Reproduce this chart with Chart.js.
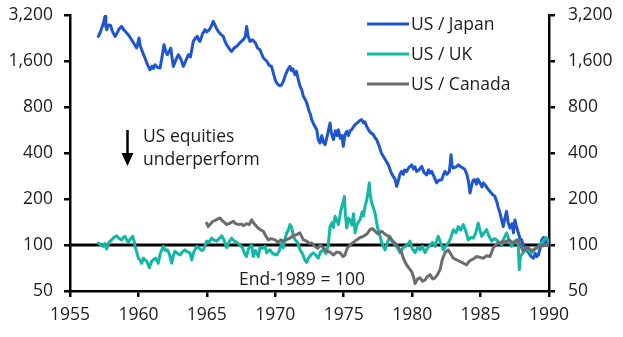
<!DOCTYPE html>
<html>
<head>
<meta charset="utf-8">
<script src="https://cdn.jsdelivr.net/npm/chart.js@4.4.1/dist/chart.umd.min.js"></script>
<style>
  html, body { margin: 0; padding: 0; background: #ffffff; }
  #wrap { width: 623px; height: 337px; }
</style>
</head>
<body>
<div id="wrap"><canvas id="c" width="623" height="337"></canvas></div>
<script>
// ---------- DATA (End-1989 = 100) ----------
const yTickValues = [50, 100, 200, 400, 800, 1600, 3200];
const xTickYears = [1955, 1960, 1965, 1970, 1975, 1980, 1985, 1990];
const seriesNames = ["US / Japan", "US / UK", "US / Canada"];
const baseLineValue = 100;

const japanYears = [1957.07,1957.2,1957.32,1957.45,1957.56,1957.62,1957.68,1957.8,1957.97,1958.1,1958.29,1958.45,1958.6,1958.77,1958.95,1959.14,1959.3,1959.5,1959.65,1959.87,1960.04,1960.14,1960.24,1960.35,1960.48,1960.65,1960.85,1961.0,1961.1,1961.21,1961.4,1961.58,1961.7,1961.87,1962.0,1962.11,1962.25,1962.36,1962.45,1962.55,1962.7,1962.92,1963.1,1963.28,1963.45,1963.65,1963.8,1964.01,1964.15,1964.3,1964.4,1964.5,1964.68,1964.86,1965.0,1965.18,1965.32,1965.47,1965.6,1965.72,1965.84,1966.0,1966.2,1966.33,1966.45,1966.6,1966.69,1966.81,1967.0,1967.17,1967.3,1967.45,1967.66,1967.8,1967.91,1968.0,1968.15,1968.35,1968.55,1968.7,1968.88,1969.13,1969.37,1969.55,1969.73,1969.86,1970.0,1970.1,1970.22,1970.35,1970.47,1970.59,1970.75,1970.9,1971.07,1971.2,1971.3,1971.44,1971.55,1971.68,1971.8,1971.93,1972.05,1972.18,1972.3,1972.45,1972.56,1972.66,1972.8,1973.03,1973.14,1973.27,1973.4,1973.52,1973.64,1973.8,1974.0,1974.1,1974.25,1974.4,1974.52,1974.61,1974.75,1974.87,1974.97,1975.1,1975.22,1975.35,1975.46,1975.58,1975.7,1975.83,1976.0,1976.15,1976.31,1976.45,1976.55,1976.68,1976.85,1977.0,1977.17,1977.3,1977.41,1977.6,1977.75,1977.9,1978.05,1978.26,1978.45,1978.62,1978.75,1978.87,1979.0,1979.1,1979.23,1979.35,1979.45,1979.6,1979.75,1979.96,1980.1,1980.2,1980.33,1980.5,1980.7,1980.85,1981.06,1981.2,1981.3,1981.43,1981.6,1981.79,1981.95,1982.16,1982.3,1982.4,1982.55,1982.72,1982.78,1982.84,1982.92,1983.0,1983.2,1983.37,1983.55,1983.7,1983.86,1984.0,1984.12,1984.23,1984.35,1984.45,1984.59,1984.7,1984.8,1984.96,1985.1,1985.2,1985.32,1985.5,1985.69,1985.85,1986.05,1986.2,1986.3,1986.42,1986.55,1986.66,1986.78,1986.9,1987.02,1987.15,1987.3,1987.4,1987.51,1987.6,1987.76,1987.88,1988.0,1988.12,1988.25,1988.37,1988.55,1988.7,1988.86,1989.0,1989.1,1989.22,1989.35,1989.47,1989.6,1989.7,1989.83,1989.95,1990.0];
const japanValues = [2318,2450,2630,2850,3134,2700,2565,2750,2735,2500,2318,2450,2600,2695,2550,2440,2350,2205,2100,1946,2263,2000,1897,1780,1674,1520,1403,1480,1430,1513,1450,1440,1650,2045,1850,1759,1850,1946,1700,1475,1600,1759,1650,1475,1600,1759,1700,2150,2250,2318,2200,2150,2400,2565,2480,2565,2700,2906,2750,2600,2499,2400,2318,2150,2045,1950,1897,1849,1950,1994,2050,2120,2205,2300,2695,2350,2150,2200,2098,1950,1897,1674,1600,1500,1475,1335,1200,1149,1120,1100,1120,1177,1300,1400,1475,1380,1420,1302,1368,1207,1100,1038,938,900,850,760,720,661,620,568,489,465,520,470,453,520,628,540,489,560,520,568,500,520,442,530,554,520,560,568,590,613,630,650,661,630,640,597,560,540,527,500,489,442,400,380,360,335,300,281,270,242,265,290,303,290,310,303,320,335,315,325,303,310,327,300,288,310,295,303,280,255,265,267,290,303,290,303,340,390,330,319,325,335,325,320,311,290,260,219,245,265,267,250,270,255,240,255,248,235,224,215,208,190,175,162,145,132,150,166,140,129,138,120,146,135,120,110,108,100,97,93,88,84,82,88,84,86,95,108,112,104,108,100,100];

const ukYears = [1957.07,1957.25,1957.43,1957.55,1957.68,1957.85,1958.04,1958.2,1958.41,1958.6,1958.77,1958.9,1959.02,1959.15,1959.26,1959.42,1959.58,1959.68,1959.75,1959.88,1959.99,1960.1,1960.24,1960.36,1960.48,1960.62,1960.8,1960.95,1961.09,1961.25,1961.45,1961.6,1961.82,1961.95,1962.11,1962.25,1962.43,1962.55,1962.67,1962.85,1963.04,1963.2,1963.4,1963.58,1963.77,1963.89,1964.05,1964.26,1964.45,1964.6,1964.74,1964.88,1964.99,1965.15,1965.35,1965.5,1965.72,1965.9,1966.08,1966.25,1966.45,1966.6,1966.81,1967.0,1967.18,1967.42,1967.6,1967.75,1967.9,1968.05,1968.27,1968.39,1968.55,1968.76,1968.88,1969.05,1969.25,1969.37,1969.5,1969.61,1969.8,1970.1,1970.3,1970.47,1970.58,1970.7,1970.83,1970.95,1971.07,1971.2,1971.32,1971.44,1971.56,1971.7,1971.81,1971.92,1972.05,1972.15,1972.29,1972.42,1972.6,1972.78,1972.95,1973.14,1973.3,1973.51,1973.7,1973.87,1974.0,1974.15,1974.25,1974.37,1974.5,1974.61,1974.75,1974.86,1974.95,1975.05,1975.12,1975.22,1975.35,1975.46,1975.6,1975.72,1975.83,1975.95,1976.05,1976.19,1976.35,1976.45,1976.56,1976.7,1976.8,1976.87,1976.95,1977.05,1977.17,1977.3,1977.41,1977.52,1977.65,1977.78,1977.9,1978.02,1978.2,1978.38,1978.55,1978.75,1978.95,1979.12,1979.3,1979.48,1979.65,1979.85,1980.0,1980.21,1980.4,1980.58,1980.75,1980.94,1981.1,1981.31,1981.5,1981.67,1981.8,1981.91,1982.05,1982.28,1982.45,1982.64,1982.8,1983.01,1983.2,1983.37,1983.55,1983.74,1983.9,1984.1,1984.3,1984.47,1984.65,1984.83,1984.95,1985.08,1985.25,1985.44,1985.6,1985.81,1986.0,1986.17,1986.35,1986.54,1986.7,1986.9,1987.05,1987.27,1987.45,1987.63,1987.75,1987.83,1987.92,1988.12,1988.3,1988.49,1988.7,1988.85,1989.05,1989.22,1989.4,1989.58,1989.75,1989.95,1990.0];
const ukValues = [103,100,98,102,94,104,108,112,115,110,108,112,114,108,104,110,114,106,98,90,82,80,76,82,80,78,71,78,80,82,76,88,98,92,93,88,76,85,91,88,86,90,93,90,89,80,90,98,95,92,93,100,106,104,111,108,106,110,115,108,96,104,111,106,104,100,96,88,84,95,100,84,92,84,96,95,98,89,92,93,88,86,92,103,96,108,120,125,136,130,115,108,106,100,93,90,85,80,77,82,86,89,86,82,90,93,88,100,132,140,130,154,145,136,160,179,190,208,160,129,150,146,135,160,120,135,140,146,165,155,179,200,230,255,210,188,175,160,140,125,115,103,98,93,104,114,105,100,95,89,95,98,100,106,95,89,96,93,98,89,95,100,104,98,108,114,105,93,98,103,110,126,120,132,125,136,125,108,112,111,120,139,125,114,120,126,115,106,110,108,104,100,110,120,110,98,105,108,100,69,85,89,95,93,88,91,95,98,102,106,112,108,100];

const canadaYears = [1964.99,1965.1,1965.23,1965.4,1965.6,1965.8,1965.96,1966.1,1966.3,1966.45,1966.69,1966.93,1967.1,1967.3,1967.5,1967.7,1967.9,1968.1,1968.27,1968.4,1968.64,1968.9,1969.12,1969.3,1969.49,1969.7,1969.98,1970.2,1970.4,1970.58,1970.8,1971.07,1971.3,1971.56,1971.8,1972.05,1972.3,1972.5,1972.66,1972.9,1973.1,1973.27,1973.5,1973.75,1974.0,1974.24,1974.5,1974.73,1974.95,1975.09,1975.25,1975.46,1975.7,1975.94,1976.2,1976.43,1976.7,1976.92,1977.1,1977.29,1977.5,1977.78,1978.0,1978.26,1978.5,1978.75,1979.0,1979.23,1979.4,1979.6,1979.8,1979.96,1980.1,1980.21,1980.4,1980.58,1980.75,1980.94,1981.1,1981.31,1981.5,1981.67,1981.85,1982.04,1982.2,1982.4,1982.64,1982.8,1983.01,1983.25,1983.5,1983.75,1983.98,1984.15,1984.35,1984.55,1984.71,1984.95,1985.2,1985.45,1985.69,1985.93,1986.1,1986.3,1986.5,1986.66,1986.85,1987.03,1987.2,1987.39,1987.6,1987.76,1987.95,1988.12,1988.3,1988.49,1988.7,1988.85,1989.1,1989.34,1989.6,1989.83,1990.0];
const canadaValues = [139,132,136,142,145,148,150,145,140,136,139,143,138,136,137,134,138,136,146,140,132,126,123,115,108,110,108,104,108,106,108,111,115,117,120,108,106,102,103,98,95,100,96,91,90,86,90,89,84,86,95,100,104,108,112,114,118,126,128,123,118,123,118,114,108,103,96,89,80,74,70,67,62,56,60,61,58,59,62,64,60,61,64,69,80,89,93,88,82,80,78,76,74,78,80,82,84,83,82,85,84,96,100,103,104,106,104,108,106,103,106,108,98,91,95,96,92,93,96,98,99,100,100];

// ---------- STYLE ----------
const FONT = "'Open Sans', 'Noto Sans', sans-serif";
const FONT_SIZE = 17.5;
const TEXT_COLOR = "#1c1c1c";
const COLORS = ["#1f56d0", "#12b7a6", "#6c6c6c"];

function toPoints(xs, ys) { return xs.map((x, i) => ({ x: x, y: ys[i] })); }

const overlayPlugin = {
  id: "overlay",
  afterDraw(chart) {
    const ctx = chart.ctx;
    ctx.save();
    // legend
    ctx.font = FONT_SIZE + "px " + FONT;
    ctx.textBaseline = "middle";
    ctx.textAlign = "left";
    const legendRows = [24, 54, 84];
    seriesNames.forEach((name, i) => {
      const y = legendRows[i];
      ctx.strokeStyle = COLORS[i];
      ctx.lineWidth = 3;
      ctx.beginPath();
      ctx.moveTo(367, y);
      ctx.lineTo(409, y);
      ctx.stroke();
      ctx.fillStyle = TEXT_COLOR;
      ctx.fillText(name, 411, y + 1);
    });
    // arrow annotation
    ctx.strokeStyle = "#000";
    ctx.fillStyle = "#000";
    ctx.lineWidth = 2.5;
    ctx.beginPath();
    ctx.moveTo(127.5, 130);
    ctx.lineTo(127.5, 156);
    ctx.stroke();
    ctx.beginPath();
    ctx.moveTo(121.5, 153);
    ctx.lineTo(133.5, 153);
    ctx.lineTo(127.5, 166);
    ctx.closePath();
    ctx.fill();
    ctx.fillStyle = TEXT_COLOR;
    ctx.textBaseline = "alphabetic";
    ctx.fillText("US equities", 143, 142);
    ctx.fillText("underperform", 143, 165);
    ctx.textAlign = "center";
    ctx.fillText("End-1989 = 100", 302, 285);
    ctx.restore();
  }
};

function fixedTicks(scale) {
  scale.ticks = yTickValues.map(v => ({ value: v }));
}

const axisGrid = {
  display: true,
  drawOnChartArea: false,
  drawTicks: true,
  tickLength: 6,
  color: "#000",
  lineWidth: 2.5
};
const axisBorder = { display: true, color: "#000", width: 2.5 };
const tickFont = { family: FONT, size: FONT_SIZE };

new Chart(document.getElementById("c"), {
  type: "line",
  data: {
    datasets: [
      { label: seriesNames[0], data: toPoints(japanYears, japanValues), borderColor: COLORS[0], order: 3 },
      { label: seriesNames[1], data: toPoints(ukYears, ukValues), borderColor: COLORS[1], order: 2 },
      { label: seriesNames[2], data: toPoints(canadaYears, canadaValues), borderColor: COLORS[2], order: 1 },
      { label: "base", data: [{ x: xTickYears[0], y: baseLineValue }, { x: xTickYears[xTickYears.length - 1], y: baseLineValue }], borderColor: "#000", borderWidth: 3, order: 4 }
    ]
  },
  options: {
    responsive: false,
    animation: false,
    devicePixelRatio: 1,
    layout: { padding: { top: 15, left: 0, right: 0, bottom: 0 } },
    elements: {
      point: { radius: 0, hoverRadius: 0 },
      line: { tension: 0, borderWidth: 3, fill: false, borderJoinStyle: "round", borderCapStyle: "round" }
    },
    plugins: { legend: { display: false }, tooltip: { enabled: false } },
    scales: {
      x: {
        type: "linear",
        min: xTickYears[0],
        max: xTickYears[xTickYears.length - 1],
        afterBuildTicks: s => { s.ticks = xTickYears.map(v => ({ value: v })); },
        afterFit: s => { s.height = 46; s.paddingLeft = 0; s.paddingRight = 0; },
        ticks: { callback: v => String(v), font: tickFont, color: TEXT_COLOR, padding: 8, maxRotation: 0, autoSkip: false },
        grid: axisGrid,
        border: axisBorder
      },
      y: {
        type: "logarithmic",
        position: "left",
        min: yTickValues[0],
        max: yTickValues[yTickValues.length - 1],
        afterBuildTicks: fixedTicks,
        afterFit: s => { s.width = 70; s.paddingTop = 0; s.paddingBottom = 0; },
        ticks: { callback: v => Number(v).toLocaleString("en-US"), font: tickFont, color: TEXT_COLOR, padding: 11, autoSkip: false },
        grid: axisGrid,
        border: axisBorder
      },
      y2: {
        type: "logarithmic",
        position: "right",
        min: yTickValues[0],
        max: yTickValues[yTickValues.length - 1],
        afterBuildTicks: fixedTicks,
        afterFit: s => { s.width = 74; s.paddingTop = 0; s.paddingBottom = 0; },
        ticks: { callback: v => Number(v).toLocaleString("en-US"), font: tickFont, color: TEXT_COLOR, padding: 13, autoSkip: false },
        grid: axisGrid,
        border: axisBorder
      }
    }
  },
  plugins: [overlayPlugin]
});
</script>
</body>
</html>
